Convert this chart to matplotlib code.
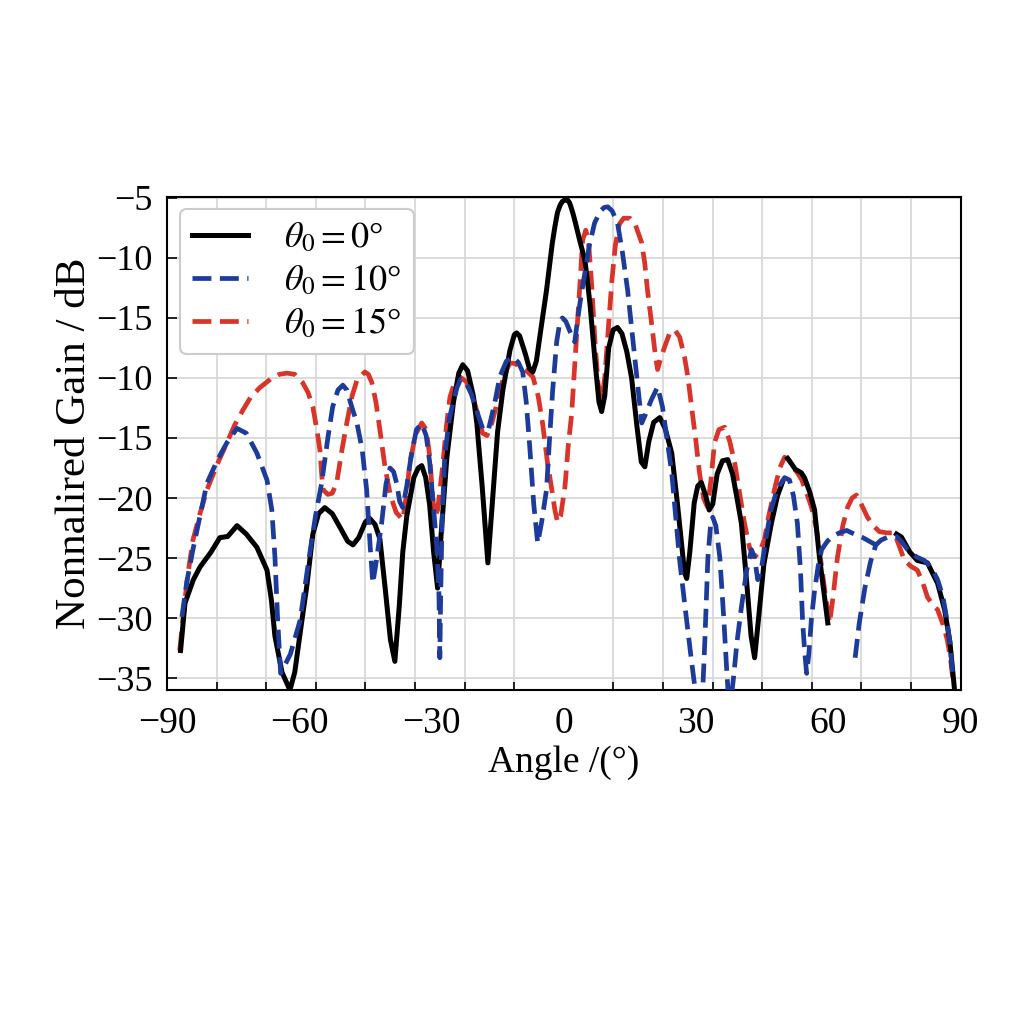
import numpy as np
import matplotlib
matplotlib.use("Agg")
import matplotlib.pyplot as plt

# traced values (angle in degrees, gain on the chart's vertical scale)
nan = np.nan

black_x = [-86.9, -85.9, -84, -82.5, -80, -78, -76.2, -74.1, -72, -69.6, -67.3, -66.3, -65.5, -63.9,
           -62.1, -61, -59.5, -58.3, -56.9, -55.6, -54.2, -52.5, -50.5, -49, -47.8, -46.5, -45, -44,
           -42.8, -41.7, -40.5, -39.3, -38.3, -37.3, -36.5, -35.6, -34, -33, -32.2, -31.3, -30.4,
           -29.5, -28.6, -27.8, -26.5, -25, -23.8, -22.9, -21.8, -20.5, -19.7, -18.5, -17.2, -16.2,
           -15, -13.8, -12.2, -11.2, -10.7, -10, -8.7, -7.8, -7.0, -6.2, -5.2, -3.9, -2.6, -2.0, -1.4,
           -0.8, -0.3, 0.4, 0.9, 1.3, 1.6, 2.1, 2.6, 3.6, 4.8, 5.4, 6, 6.6, 7.2, 8.0, 8.6, 9.3, 10.2,
           11.2, 12.2, 13.2, 14.3, 15.4, 16.6, 17.6, 18.4, 19.3, 20.4, 21.8, 23.0, 24.5, 25.8, 27.4,
           27.9, 28.6, 29.6, 30.4, 31.2, 32.2, 33.0, 33.8, 34.8, 36.0, 37.2, 38.3, 39.3, 40.3, 41.5,
           42.5, 43.3, 44.2, 45.4, 47.1, 48.5, 49.6, nan, 50.8, 51.2, 52.5, 53.9, 54.6, 55.8, 56.9,
           58.0, 59.9, nan,
           75.5, 76.6, 78.5, 80.2, 82.5, 84.8, 86.4, 87.6, 88.6]
black_y = [-32.7, -28.75, -26.8, -25.75, -24.5, -23.3, -23.2, -22.3, -23.0, -24.1, -26.0, -28.5, -31.5,
           -34.5, -36.0, -34.5, -30.5, -27.4, -23.0, -21.3, -20.8, -21.3, -22.6, -23.6, -23.9, -23.3,
           -22.0, -21.7, -22.2, -23.4, -27.5, -31.8, -33.6, -29, -24.5, -21.5, -18.3, -17.5, -17.3,
           -18.3, -20.6, -24.5, -27.5, -23, -16.6, -12, -9.6, -8.9, -9.4, -11.5, -13.8, -19, -25.4,
           -20.5, -14.5, -11, -7.7, -6.4, -6.25, -6.5, -8, -9.2, -9.5, -8.6, -6, -2.7, 1.2, 2.6, 3.8,
           4.4, 4.7, 4.85, 4.8, 4.6, 4.3, 3.7, 3.0, 1.5, -0.2, -2.0, -4, -6.5, -9, -12, -12.8, -11.5,
           -7.5, -6.0, -5.8, -6.3, -7.8, -10, -14, -17, -17.4, -15.3, -13.7, -13.3, -14.2, -16.25,
           -20.5, -26.2, -26.7, -24.5, -20.4, -19, -18.7, -19.8, -21.0, -20.5, -18, -16.9, -16.8,
           -18.0, -20, -22.1, -27, -31.5, -33.3, -30, -25.5, -22.1, -19.8, -18.7, nan, -16.7, -16.9,
           -17.6, -17.9, -18.3, -19.5, -21, -24.9, -30.4, nan,
           -23.0, -23.25, -24.5, -25.2, -25.4, -27.1, -29.3, -32, -35.8]

blue_x = [-86.6, -85.5, -84.1, -82.5, -80.9, -78.5, -76.4, -74.1, -72, -69.6, -67.3, -66.2, -65.5,
          -64.9, -64.2, -62, -59.8, -57.6, -56.3, -54.9, -53.5, -52.4, -51.2, -50.1, -49.2, -48,
          -46.9, -45.7, -44.7, -43.9, -43.3, -42.6, -41.3, -40.3, -39.4, -38.6, -37.9, -37.2, -36.5,
          -35.6, -34.6, -33.4, -32.2, -31.2, -30.4, -29.5, -28.8, -28.3, -28.1, -27.9, -27.6, -27,
          -26, -25.2, -24.2, -23.4, -22.3, -21, -19.5, -18.2, -17, -15.6, -14.5, -13.0, -11.6, -10.3,
          -9.3, -8.5, -7.7, -6.8, -5.9, -5.0, -3.9, -3.2, -2.5, -1.6, -0.9, -0.3, 0.5, 1.5, 2.5,
          3.2, 4, 4.8, 5.8, 7.0, 8.3, 9.2, 10.0, 11.0, 12.2, 13.3, 14.5, 15.3, 16.1, 16.9, 17.7,
          18.6, 19.9, 21.3, 22.4, 23.4, 24.5, 25.4, 26.3, 27.5, 28.8, 30.0, 31.3, 32.0, 32.7, 33.3,
          33.8, 34.5, 35.4, 36.3, 37.0, 37.6, 38.5, 39.3, 40.3, 41.5, 42.6, 43.3, 44.0, 44.8, 45.8,
          47.0, 48.4, 50.1, 51.2, 52.1, 53.0, 53.7, 54.2, 54.7, 55.1, 55.6, 56.2, 56.9, 57.7, 58.5,
          59.8, 60.8, 62.5, 64.2, 65.9, 67.6, 69.3, 70.8, nan,
          66.1, 67.0, 68.3, 69.6, 70.8, 72, 73.5, 75.5, 76.8, 78, 80, 81.8, 83.4, 84.8, 86, 86.8,
          87.6, 88.2]
blue_y = [-29.9, -27, -24.3, -21.5, -18.75, -16.8, -15.4, -14.2, -14.6, -16.25, -18.5, -21, -24.9,
          -30, -34.6, -33, -30.2, -24.6, -21.5, -18.75, -15, -12.4, -11, -10.6, -11, -12.5, -13.75,
          -16, -19.3, -24, -27.1, -25.5, -22.1, -18.8, -17.5, -17.8, -18.75, -20.3, -20.8, -19,
          -16.5, -14.3, -13.8, -14.8, -17, -21, -24, -28, -33.3, -28, -22, -16.6, -13.5, -12.2,
          -10.8, -10.1, -10.3, -11.3, -13, -14.4, -14.2, -12, -9.9, -8.6, -8.25, -8.7, -9.5, -12,
          -15.75, -20.5, -23.75, -22, -19.3, -15, -11, -7, -5.4, -5.0, -5.3, -6.2, -7.0, -5, -3,
          -1.25, 1.0, 2.9, 3.9, 4.2, 4.25, 3.9, 2.9, 0.5, -2.7, -5.5, -8.25, -11, -13.75, -13,
          -11.8, -10.75, -12.4, -15, -17.9, -21.5, -25.2, -29, -33, -36.5, -38, -32, -25, -22.3,
          -21.6, -22.3, -24.9, -30, -34.5, -38, -35, -32, -29.1, -26, -24.3, -25, -26.8, -26.0,
          -23.5, -21, -19.3, -18.3, -18.5, -19.8, -22.1, -26, -30.4, -33, -34.6, -33, -30, -27.7,
          -25.7, -24.3, -23.6, -23.25, -22.9, -22.7, -23.0, -23.25, -23.6, -23.9, nan,
          -33.3, -30.5, -27.5, -25.3, -23.9, -23.5, -23.25, -23.2, -23.7, -24.3, -24.9, -25.2,
          -25.8, -26.8, -28.2, -29.9, -32, -34.6]

red_x = [-87.1, -86.2, -85.3, -84.1, -82.5, -80.9, -78.6, -76.4, -74.6, -72.8, -71, -68.9, -66.5,
         -64.5, -62.8, -61, -59.2, -58, -56.9, -55.9, -55.3, -54.9, -54.6, -53.5, -52.5, -51.5,
         -50.3, -49.2, -48, -46.9, -45.1, -44.3, -43.5, -42.6, -41.7, -40.5, -39.3, -38.0, -36.5,
         -35.7, -34.9, -33.6, -32.2, -31.2, -30.4, -29.7, -29.2, -28.6, -27.5, -26.6, -25.8, -24.7,
         -23.6, -22.1, -20.6, -19.5, -18.4, -17.4, -16.3, -15.4, -14.5, -13.3, -12.2, -11, -10,
         -8.5, -7, -5.8, -4.8, -3.7, -2.7, -2, -1.4, -0.7, 0.3, 1.0, 1.8, 2.4, 3.2, 3.8, 4.3, 5.0,
         5.6, 6.3, 7.1, 7.8, 8.6, 9.3, 10.0, 10.9, 11.7, 12.6, 13.6, 15.0, 16.3, 17.7, 18.4, 19.0,
         19.6, 20.2, 20.8, 21.3, 21.9, 22.9, 24.0, 25.2, 26.3, 27.4, 28.2, 29.0, 29.9, 30.8, 31.7,
         32.6, 33.4, 34.2, 35.2, 36.5, 37.6, 38.8, 40, 41, 42.2, 43.3, 44.4, 45.5, 46.5, 47.8, 49,
         50.1, 51.0, 51.9, 53.0, 54.0, 55.2, 56.2, 57.3, 58.6, 59.5, 60.3, 61, 62.1, 63.3, 64.4,
         65.4, 66.4, 67.6, 68.9, 70.2, 71.6, 73.3, 75.0, 76.1, 77.3, 78.8, 80.2, 81.4, 82.5, 83.7,
         84.8, 86, 87, 87.7, 88.2]
red_y = [-32.7, -29.5, -26.5, -23.5, -21.3, -19.3, -17.2, -15.4, -13.9, -12.7, -11.6, -10.8, -10.1,
         -9.7, -9.6, -9.7, -10.4, -11.2, -12.4, -14.5, -16, -18, -19.3, -19.7, -19.6, -18.75, -16,
         -13.75, -11.5, -10.2, -9.5, -9.7, -10.4, -12, -14.3, -17.5, -19.8, -21.2, -21.8, -19.8,
         -17.1, -14.7, -13.75, -14.3, -16.5, -20, -21.5, -21.0, -17.5, -14, -11.6, -10.3, -9.9,
         -10.3, -11.6, -13, -14.6, -14.8, -13.75, -12.5, -11, -9.6, -8.75, -8.8, -9.1, -9.4, -9.9,
         -11.5, -13.75, -17, -19.3, -21, -22, -21.5, -19, -15.75, -13, -9.5, -5, -1.5, 1.5, 2.3,
         1.5, -2, -7, -10.5, -11.8, -10, -6.5, -2, 1, 2.8, 3.3, 3.3, 2.7, 1.25, -0.5, -2.7, -4.5,
         -6.25, -8.2, -9.3, -8.5, -7.4, -6.3, -6.0, -6.6, -8.25, -10, -12.4, -15, -17.9, -20,
         -20.75, -18.5, -15.4, -14.3, -14.1, -15.2, -17.1, -19.8, -22.1, -24.2, -24.9, -24.5,
         -23.5, -21.5, -19.3, -17.5, -16.6, -16.8, -17.4, -17.9, -18.5, -19.7, -20.75, -22.5, -26,
         -28.5, -30.4, -28.5, -24.9, -22.3, -20.75, -20.0, -19.75, -20.6, -21.6, -22.3, -22.8,
         -22.9, -22.9, -24, -25.2, -25.7, -26, -27, -28.25, -28.9, -29.3, -30.5, -31.8, -33.3,
         -34.9]

labels = [r"$\theta_0 = 0$°", r"$\theta_0 = 10$°", r"$\theta_0 = 15$°"]

y_ticks = [5, 0, -5, -10, -15, -20, -25, -30, -35]
y_tick_labels = ["\u22125", "\u221210", "\u221215", "\u221210", "\u221215", "\u221220", "\u221225",
                 "\u221230", "\u221235"]
x_ticks = [-90, -60, -30, 0, 30, 60, 90]
x_tick_labels = ["\u221290", "\u221260", "\u221230", "0", "30", "60", "90"]

plt.rcParams["font.family"] = ["Liberation Serif", "DejaVu Serif"]
plt.rcParams["mathtext.fontset"] = "stix"

fig = plt.figure(figsize=(10.24, 10.24), dpi=100)
ax = fig.add_axes([0.163, 0.326, 0.775, 0.482])

ax.plot(black_x, black_y, color="black", lw=3.6, label=labels[0], zorder=3)
ax.plot(blue_x, blue_y, color="#1c3b9a", lw=3.4, dashes=(4, 1.8), label=labels[1], zorder=4)
ax.plot(red_x, red_y, color="#d8342a", lw=3.4, dashes=(4, 1.8), label=labels[2], zorder=2)

ax.set_xlim(-90, 90)
ax.set_ylim(-36, 5.1)

ax.set_yticks(y_ticks)
ax.set_yticklabels(y_tick_labels)
ax.set_xticks(x_ticks)
ax.set_xticklabels(x_tick_labels)
ax.set_xticks(np.arange(-90, 90.1, 11.25), minor=True)

ax.tick_params(axis="y", which="major", direction="in", length=7, width=1.2, labelsize=26, pad=10)
ax.tick_params(axis="x", which="major", length=0, labelsize=27, pad=12)
ax.tick_params(axis="x", which="minor", direction="in", length=6, width=1.2)

ax.grid(True, axis="y", which="major", color="#d9d9d9", lw=1.3)
ax.grid(True, axis="x", which="minor", color="#d9d9d9", lw=1.3)
ax.set_axisbelow(True)
for sp in ax.spines.values():
    sp.set_linewidth(1.5)

ax.set_xlabel("Angle /(\u00b0)", fontsize=27, labelpad=3)
ax.set_ylabel("Nonnalired Gain / dB", fontsize=31, labelpad=2)

leg = ax.legend(loc="upper left", fontsize=26, handlelength=1.55, handletextpad=1.0,
                labelspacing=0.25, borderaxespad=0.35, borderpad=0.35, fancybox=True,
                framealpha=1.0, edgecolor="#cccccc")
leg.get_frame().set_linewidth(1.5)

fig.savefig("out.png", dpi=100)
